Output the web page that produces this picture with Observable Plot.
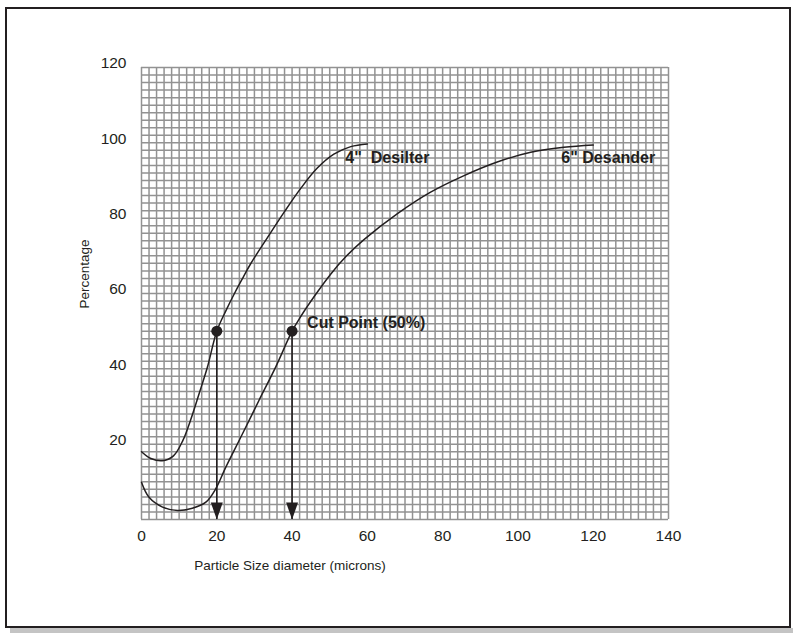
<!DOCTYPE html>
<html>
<head>
<meta charset="utf-8">
<script src="https://cdn.jsdelivr.net/npm/d3@7"></script>
<script src="https://cdn.jsdelivr.net/npm/@observablehq/plot@0.6"></script>
<style>
  html, body { margin: 0; padding: 0; background: #fff; overflow: hidden; }
  #wrap { position: relative; width: 793px; height: 633px; }
  #chart { position: absolute; left: 0; top: 0; }
  #border { position: absolute; left: 5px; top: 7px; width: 786px; height: 621px; border: 2.5px solid #231f20; box-sizing: border-box; pointer-events: none; }
  #shadow { position: absolute; left: 10px; top: 628px; width: 783px; height: 5px; background: #c4c4c4; }
</style>
</head>
<body>
<div id="wrap">
  <div id="chart"></div>
  <div id="border"></div>
  <div id="shadow"></div>
</div>
<script>
// ---- data ----
const xTicks = [0, 20, 40, 60, 80, 100, 120, 140];
const yTicks = [20, 40, 60, 80, 100, 120];

// 4" Desilter: [particle size (microns), percentage]
const desilterX = [0, 2.5, 5.5, 8.5, 11, 13, 15.3, 17.5, 20, 22.5, 25, 27, 29, 33.5, 37.9, 42.3, 46.7, 51.1, 55.6, 60];
const desilterY = [18, 16.2, 15.6, 16.9, 21, 26.3, 33.4, 40.4, 50, 55.6, 60.6, 64.3, 67.9, 74.9, 81.6, 87.9, 93.3, 97.0, 99, 99.7];

// 6" Desander
const desanderX = [0, 2, 5.6, 9.6, 13.5, 17.1, 19.7, 22.4, 26.8, 31.2, 35.7, 40, 42.3, 46.3, 50.3, 54.5, 59.1, 68, 76.8, 85.7, 94.5, 103.4, 112.2, 120];
const desanderY = [9.9, 5.9, 3.3, 2.4, 3.0, 4.6, 8.1, 13.9, 22.7, 31.6, 40.6, 50, 53.9, 59.8, 65.2, 70, 74.3, 81.2, 86.9, 91.3, 94.9, 97.5, 98.8, 99.4];

// cut points (50%)
const cutX = [20, 40];
const cutY = [50, 50];

const seriesNames = ['4"  Desilter', '6" Desander'];
const cutLabel = "Cut Point (50%)";
const xTitle = "Particle Size diameter (microns)";
const yTitle = "Percentage";

// ---- build tables ----
const desilter = desilterX.map((x, i) => ({x, y: desilterY[i]}));
const desander = desanderX.map((x, i) => ({x, y: desanderY[i]}));
const cuts = cutX.map((x, i) => ({x, y: cutY[i]}));
const gridX = d3.range(0, 141, 2);
const gridY = d3.range(0, 121, 2);

const arrowHead = {
  draw(ctx) {
    ctx.moveTo(0, 0);
    ctx.lineTo(-6, -17);
    ctx.lineTo(6, -17);
    ctx.closePath();
  }
};

const ink = "#231f20";
const font = "'Liberation Sans', Arial, Helvetica, sans-serif";

const chart = Plot.plot({
  width: 793,
  height: 633,
  marginLeft: 141,
  marginRight: 125,
  marginTop: 67,
  marginBottom: 114,
  x: {domain: [0, 140]},
  y: {domain: [0, 120]},
  style: {fontFamily: font, background: "transparent", color: ink},
  marks: [
    Plot.ruleX(gridX, {stroke: "#929292", strokeWidth: 1.5}),
    Plot.ruleY(gridY, {stroke: "#929292", strokeWidth: 1.5}),
    Plot.axisX(xTicks, {tickSize: 0, tickPadding: 10, fontSize: 15.5, label: null, fill: ink}),
    Plot.axisY(yTicks, {tickSize: 0, tickPadding: 15, fontSize: 15.5, label: null, dy: -4, fill: ink}),
    Plot.text([yTitle], {frameAnchor: "left", rotate: -90, dx: -57, dy: 15, fontSize: 13.5, fill: ink}),
    Plot.text([xTitle], {frameAnchor: "bottom", dx: -115, dy: 50, fontSize: 13.5, fill: ink}),
    Plot.line(desilter, {x: "x", y: "y", curve: "catmull-rom", stroke: ink, strokeWidth: 1.5}),
    Plot.line(desander, {x: "x", y: "y", curve: "catmull-rom", stroke: ink, strokeWidth: 1.5}),
    Plot.ruleX(cuts, {x: "x", y1: "y", y2: 0, stroke: ink, strokeWidth: 1.6}),
    Plot.dot(cuts, {x: "x", y: 0, symbol: arrowHead, fill: ink, stroke: "none"}),
    Plot.dot(cuts, {x: "x", y: "y", r: 5.5, fill: ink, stroke: "none"}),
    Plot.text([desilter[desilter.length - 1]], {x: "x", y: "y", text: () => seriesNames[0], textAnchor: "start", dx: -22, dy: 14, fontSize: 16, fontWeight: "bold", fill: ink}),
    Plot.text([desander[desander.length - 1]], {x: "x", y: "y", text: () => seriesNames[1], textAnchor: "end", dx: 62, dy: 13, fontSize: 16, fontWeight: "bold", fill: ink}),
    Plot.text([cuts[1]], {x: "x", y: "y", text: () => cutLabel, textAnchor: "start", dx: 15, dy: -8, fontSize: 16, fontWeight: "bold", fill: ink})
  ]
});
document.getElementById("chart").appendChild(chart);
</script>
</body>
</html>
